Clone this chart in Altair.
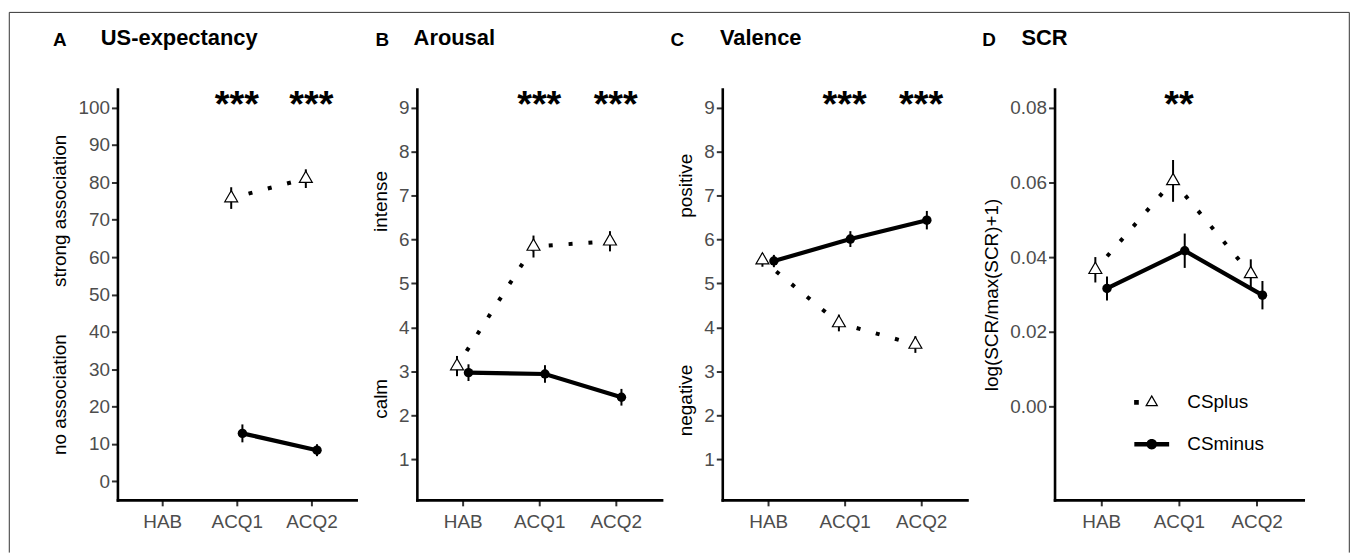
import json
import math
import altair as alt
import pandas as pd

FONT = "Liberation Sans, Arial, Helvetica, sans-serif"

# ---------------- data ----------------
CONDITIONS = ["HAB", "ACQ1", "ACQ2"]
GROUPS = ["CSplus", "CSminus"]
PANEL_LETTERS = ["A", "B", "C", "D"]
PANEL_TITLES = ["US-expectancy", "Arousal", "Valence", "SCR"]

# A: US-expectancy
us_plus = [None, 75.8, 81.0]
us_plus_se = [None, 2.9, 2.5]
us_minus = [None, 12.8, 8.3]
us_minus_se = [None, 2.4, 1.6]

# B: Arousal
ar_plus = [3.12, 5.84, 5.96]
ar_plus_se = [0.23, 0.25, 0.23]
ar_minus = [2.97, 2.94, 2.41]
ar_minus_se = [0.19, 0.20, 0.19]

# C: Valence
va_plus = [5.53, 4.10, 3.61]
va_plus_se = [0.15, 0.19, 0.19]
va_minus = [5.51, 6.01, 6.44]
va_minus_se = [0.14, 0.18, 0.21]

# D: SCR
scr_plus = [0.0366, 0.0604, 0.0355]
scr_plus_se = [0.0034, 0.0056, 0.0039]
scr_minus = [0.0316, 0.0417, 0.0298]
scr_minus_se = [0.0032, 0.0046, 0.0038]

sig_us = ["", "***", "***"]
sig_ar = ["", "***", "***"]
sig_va = ["", "***", "***"]
sig_scr = ["", "**", ""]

ticks_us = [0, 10, 20, 30, 40, 50, 60, 70, 80, 90, 100]
ticks_rating = [1, 2, 3, 4, 5, 6, 7, 8, 9]
ticks_scr = [0.00, 0.02, 0.04, 0.06, 0.08]

NB = "\u00a0"
ytitle_us = "no association" + NB * 9 + "strong association"
ytitle_ar = "calm" + NB * 28 + "intense"
ytitle_va = "negative" + NB * 28 + "positive"
ytitle_scr = "log(SCR/max(SCR)+1)"

# ---------------- styling helpers ----------------
DODGE = 0.075
PLOT_H = 413
LABEL_EXPR = json.dumps(CONDITIONS) + "[datum.value - 1]"

TRI_PATH = "M0,-1.155L1,0.577L-1,0.577Z"


def fmt_pt(x, y):
    return f"{x:.4f},{y:.4f}"


# legend key for CSplus: one dot of the dotted line + open triangle
R = 17.5
def px(v):
    return v / R

outer = [(0, -7.68), (6.65, 3.84), (-6.65, 3.84)]
inner = [(0, -5.18), (-4.48, 2.59), (4.48, 2.59)]
plus_key = "M" + "L".join(fmt_pt(px(a), px(b)) for a, b in outer) + "Z"
plus_key += "M" + "L".join(fmt_pt(px(a), px(b)) for a, b in inner) + "Z"
plus_key += "M{0}L{1}L{2}L{3}Z".format(
    fmt_pt(px(-17.7), px(-2.35)), fmt_pt(px(-13.0), px(-2.35)),
    fmt_pt(px(-13.0), px(2.35)), fmt_pt(px(-17.7), px(2.35)))

# legend key for CSminus: solid line + filled circle
minus_key = "M{0}L{1}L{2}L{3}Z".format(
    fmt_pt(-1, px(-2.25)), fmt_pt(1, px(-2.25)), fmt_pt(1, px(2.25)), fmt_pt(-1, px(2.25)))
circ = [(px(5.3) * math.cos(2 * math.pi * k / 28), px(5.3) * math.sin(2 * math.pi * k / 28)) for k in range(28)]
minus_key += "M" + "L".join(fmt_pt(a, b) for a, b in circ) + "Z"


def make_df(plus, plus_se, minus, minus_se):
    rows = []
    for i, cond in enumerate(CONDITIONS):
        for grp, vals, ses, sign in ((GROUPS[0], plus, plus_se, -1), (GROUPS[1], minus, minus_se, 1)):
            if vals[i] is None:
                continue
            rows.append({"cond": cond, "cs": grp, "pos": i + 1 + sign * DODGE,
                         "mean": vals[i], "lo": vals[i] - ses[i], "hi": vals[i] + ses[i]})
    return pd.DataFrame(rows)


def panel(idx, df, sig, domain, ticks, ytitle, fmt, width, letter_xy, title_xy,
          x_range=None, extra=()):
    if x_range is None:
        xscale = alt.Scale(domain=[0.4, 3.6], nice=False, zero=False)
    else:
        xscale = alt.Scale(domain=[0.4, 3.6], range=x_range, nice=False, zero=False)
    xaxis = alt.Axis(values=[1, 2, 3], labelExpr=LABEL_EXPR, title=None)
    x = alt.X("pos:Q", scale=xscale, axis=xaxis)
    yscale = alt.Scale(domain=domain, nice=False, zero=False)
    yaxis = alt.Axis(values=ticks, title=ytitle, format=fmt)

    base = alt.Chart(df)
    plus_line = base.transform_filter(alt.datum.cs == GROUPS[0]).mark_line(
        color="black", strokeWidth=4, strokeDash=[4, 16], strokeDashOffset=2
    ).encode(x=x, y=alt.Y("mean:Q", scale=yscale, axis=yaxis))
    minus_line = base.transform_filter(alt.datum.cs == GROUPS[1]).mark_line(
        color="black", strokeWidth=4.2
    ).encode(x=x, y=alt.Y("mean:Q", scale=yscale, axis=yaxis))
    err = base.mark_rule(color="black", strokeWidth=2).encode(
        x=x, y=alt.Y("lo:Q", scale=yscale, axis=yaxis), y2="hi:Q")
    tri = base.transform_filter(alt.datum.cs == GROUPS[0]).mark_point(
        shape=TRI_PATH, filled=True, fill="white", stroke="black",
        strokeWidth=1.2, size=169, opacity=1
    ).encode(x=x, y=alt.Y("mean:Q", scale=yscale, axis=yaxis))
    dot = base.transform_filter(alt.datum.cs == GROUPS[1]).mark_point(
        shape="circle", filled=True, color="black", size=90, opacity=1
    ).encode(x=x, y=alt.Y("mean:Q", scale=yscale, axis=yaxis))

    sig_df = pd.DataFrame({"pos": [i + 1 for i, s in enumerate(sig) if s],
                           "sig": [s for s in sig if s]})
    stars = alt.Chart(sig_df).mark_text(
        font=FONT, fontSize=38, fontWeight="bold", baseline="alphabetic",
        align="center", color="black"
    ).encode(x=x, y=alt.value(28), text="sig:N")

    head_df = pd.DataFrame({"letter": [PANEL_LETTERS[idx]], "title": [PANEL_TITLES[idx]]})
    letter = alt.Chart(head_df).mark_text(
        font=FONT, fontSize=19, fontWeight="bold", align="left",
        baseline="alphabetic", color="black"
    ).encode(x=alt.value(letter_xy[0]), y=alt.value(letter_xy[1]), text="letter:N")
    ttl = alt.Chart(head_df).mark_text(
        font=FONT, fontSize=22, fontWeight="bold", align="left",
        baseline="alphabetic", color="black"
    ).encode(x=alt.value(title_xy[0]), y=alt.value(title_xy[1]), text="title:N")

    layers = [plus_line, minus_line, err, tri, dot, stars, letter, ttl] + list(extra)
    return alt.layer(*layers).properties(width=width, height=PLOT_H)


df_us = make_df(us_plus, us_plus_se, us_minus, us_minus_se)
df_ar = make_df(ar_plus, ar_plus_se, ar_minus, ar_minus_se)
df_va = make_df(va_plus, va_plus_se, va_minus, va_minus_se)
df_scr = make_df(scr_plus, scr_plus_se, scr_minus, scr_minus_se)

# panel widths and gap (plot areas only; axes overflow into the gap)
W_A, W_B, W_C_AXIS, W_C, W_D, GAP = 240, 246, 246, 273, 250, 61
D_ORIGIN = W_A + GAP + W_B + GAP + W_C + GAP

# outer figure frame (drawn from panel A)
FL, FR, FT, FB = -108.7, 1238.3, -77, 466
frame_df = pd.DataFrame({"k": [0]})
frame_top = alt.Chart(frame_df).mark_rule(color="#333333", strokeWidth=1).encode(
    x=alt.value(FL), x2=alt.value(FR), y=alt.value(FT))
frame_left = alt.Chart(frame_df).mark_rule(color="#333333", strokeWidth=1).encode(
    x=alt.value(FL), y=alt.value(FT), y2=alt.value(FB))
frame_right = alt.Chart(frame_df).mark_rule(color="#333333", strokeWidth=1).encode(
    x=alt.value(FR), y=alt.value(FT), y2=alt.value(FB))

legend_layer = alt.Chart(df_scr).transform_filter("false").mark_point(
    filled=True, color="black", size=1225, opacity=1, strokeWidth=0
).encode(
    shape=alt.Shape(
        "cs:N",
        scale=alt.Scale(domain=GROUPS, range=[plus_key, minus_key]),
        legend=alt.Legend(
            title=None, orient="none", legendX=D_ORIGIN + 80.2, legendY=297.5,
            direction="vertical", symbolSize=1225, symbolStrokeWidth=0,
            symbolFillColor="black", symbolOpacity=1, labelFontSize=19,
            labelFont=FONT, labelColor="black", labelOffset=18.2,
            rowPadding=14, padding=0, labelLimit=300,
        ),
    )
)

pA = panel(0, df_us, sig_us, [-5, 105], ticks_us, ytitle_us, "d", W_A,
           (-64.7, -43), (-16.7, -44), extra=[frame_top, frame_left, frame_right])
pB = panel(1, df_ar, sig_ar, [0.075, 9.425], ticks_rating, ytitle_ar, "d", W_B,
           (-41.6, -43), (-3.3, -44))
pC = panel(2, df_va, sig_va, [0.075, 9.425], ticks_rating, ytitle_va, "d", W_C,
           (-52, -43), (-2.3, -44), x_range=[0, W_C_AXIS])
pD = panel(3, df_scr, sig_scr, [-0.025, 0.085], ticks_scr, ytitle_scr, ".2f", W_D,
           (-72.6, -43), (-33.3, -44), extra=[legend_layer])

chart = alt.hconcat(pA, pB, pC, pD, spacing=GAP, bounds="flush").properties(
    padding={"left": 0, "top": 2, "right": 0, "bottom": 0}
).configure_axis(
    domainColor="black", domainWidth=2.6, domainCap="square",
    tickColor="#333333", tickWidth=2, tickSize=6,
    labelFont=FONT, labelFontSize=19, labelColor="#4D4D4D", labelPadding=2,
    titleFont=FONT, titleFontSize=19, titleFontWeight="normal", titleColor="black",
    titlePadding=8, grid=False, labelFlush=False, labelOverlap=False,
).configure_axisX(
    labelPadding=7
).configure_view(
    strokeWidth=0
)

chart.save("out.html", embed_options={"renderer": "svg", "actions": False})
